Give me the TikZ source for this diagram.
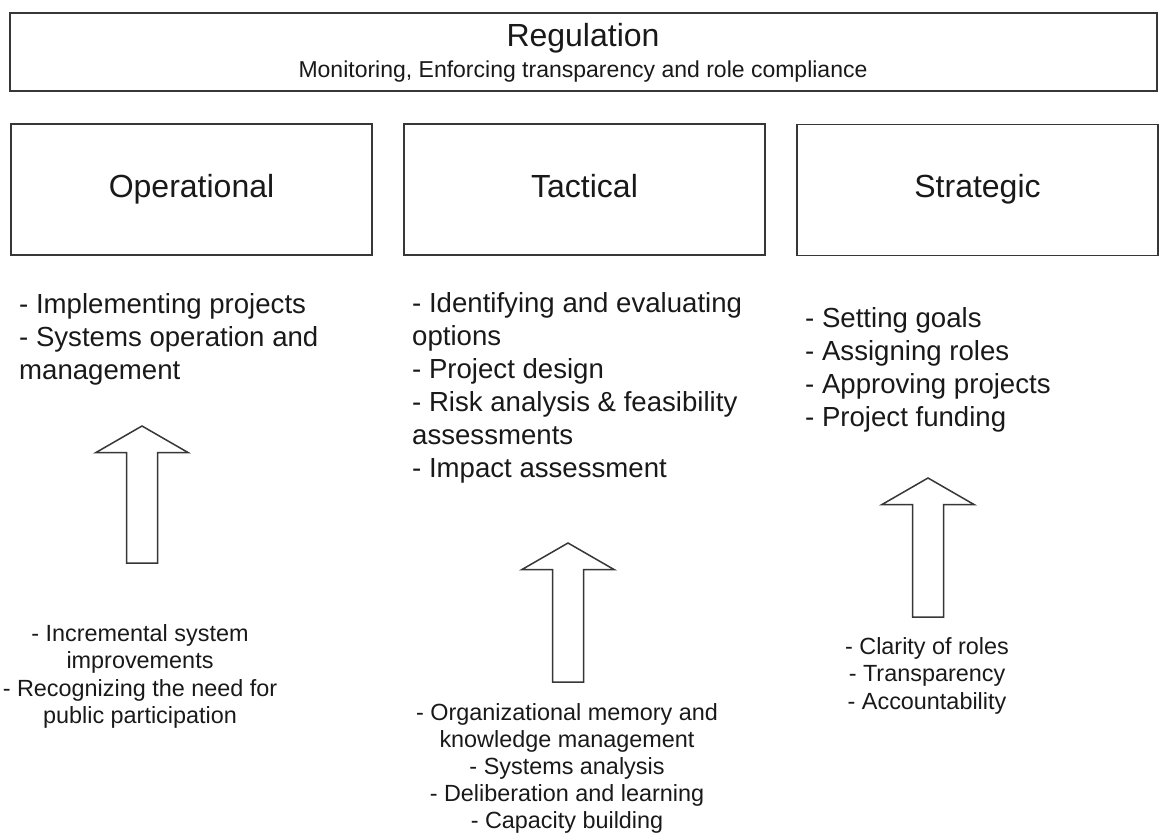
\documentclass[tikz,border=0pt]{standalone}
\usepackage{fontspec}
\setmainfont{Liberation Sans}

\definecolor{linegray}{RGB}{55,55,55}
\definecolor{textgray}{RGB}{25,25,25}

\begin{document}
\begin{tikzpicture}[x=1pt, y=-1pt,
  regbox/.style={draw=linegray, line width=1.6pt, minimum width=1147pt, minimum height=78pt, inner sep=0pt},
  regtitle/.style={inner sep=0pt, text=textgray, font=\fontsize{32}{38}\selectfont},
  regsub/.style={inner sep=0pt, text=textgray, font=\fontsize{23}{28}\selectfont},
  levelbox/.style={draw=linegray, line width=1.6pt, minimum width=361pt, minimum height=131pt,
    inner sep=0pt, text height=23pt, text depth=7pt, text=textgray, font=\fontsize{32}{38}\selectfont},
  toplist/.style={align=left, anchor=north west, inner sep=0pt, text=textgray, font=\fontsize{27.6}{33}\selectfont},
  baselist/.style={align=center, anchor=north, inner sep=0pt, text=textgray, font=\fontsize{23.4}{27.5}\selectfont},
  blockarrow/.style={draw=linegray, line width=1.5pt, line join=miter, fill=white}]

\useasboundingbox (0,0) rectangle (1159,837);

%---------------------------------------
% Regulation on top
%---------------------------------------
\node[regbox] (reg) at (583.5,52) {};
\node[regtitle, anchor=base] (regname) at (583,47) {Regulation};
\node[regsub, anchor=base] (regtext) at (583,78) {Monitoring, Enforcing transparency and role compliance};

%---------------------------------------
% The three levels
%---------------------------------------
\node[levelbox] (op)  at (191.5,189.5) {Operational};
\node[levelbox] (tac) at (584.5,189.5) {Tactical};
\node[levelbox] (str) at (977.5,190)   {Strategic};

% tasks under each level
\node[toplist] (oplist) at (19,293)
  {- Implementing projects\\- Systems operation and\\management};
\node[toplist] (taclist) at (412,292)
  {- Identifying and evaluating\\options\\- Project design\\- Risk analysis \& feasibility\\assessments\\- Impact assessment};
\node[toplist] (strlist) at (805,307)
  {- Setting goals\\- Assigning roles\\- Approving projects\\- Project funding};

%---------------------------------------
% Block arrows: x / tip / bottom
%---------------------------------------
\foreach \cx/\tip/\bot in {142/426/563, 568/543/682, 928/478/617}
  \draw[blockarrow] (\cx,\tip) -- (\cx+46,\tip+26.5) -- (\cx+15.5,\tip+26.5)
    -- (\cx+15.5,\bot) -- (\cx-15.5,\bot) -- (\cx-15.5,\tip+26.5)
    -- (\cx-46,\tip+26.5) -- cycle;

% what feeds each level
\node[baselist] (opbase) at (140,624)
  {- Incremental system\\improvements\\- Recognizing the need for\\public participation};
\node[baselist, font=\fontsize{23.4}{27}\selectfont] (tacbase) at (567,703)
  {- Organizational memory and\\knowledge management\\- Systems analysis\\- Deliberation and learning\\- Capacity building};
\node[baselist] (strbase) at (927,637)
  {- Clarity of roles\\- Transparency\\- Accountability};

\end{tikzpicture}
\end{document}
